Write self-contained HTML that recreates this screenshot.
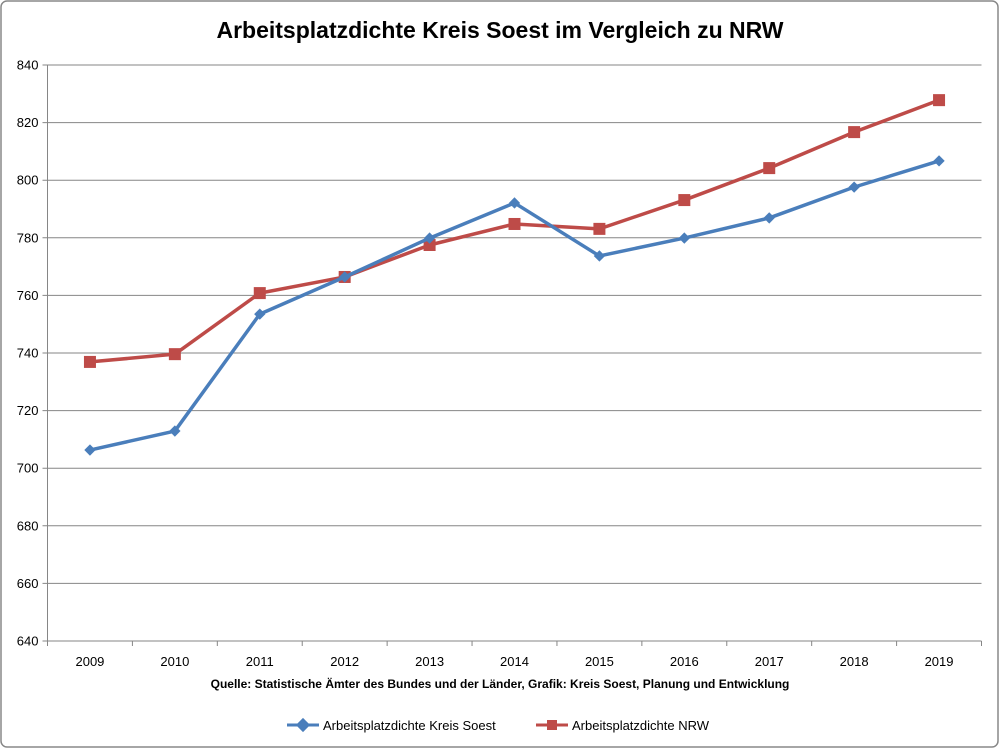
<!DOCTYPE html>
<html><head><meta charset="utf-8"><style>
html,body{margin:0;padding:0;background:#fff;}
svg{display:block;font-family:"Liberation Sans",Arial,sans-serif;}
</style></head><body>
<svg id="chart" width="1000" height="749" viewBox="0 0 1000 749">
<rect x="1" y="1" width="997" height="746" rx="6" fill="#fff" stroke="#888" stroke-width="1.5"/>
<text x="500" y="38" text-anchor="middle" font-size="23" font-weight="bold" fill="#000">Arbeitsplatzdichte Kreis Soest im Vergleich zu NRW</text>
<g id="grid"></g>
<g id="yticks"></g>
<g id="xticks"></g>
<g id="series"></g>
<text x="500" y="688" text-anchor="middle" font-size="12" font-weight="bold" fill="#000">Quelle: Statistische Ämter des Bundes und der Länder, Grafik: Kreis Soest, Planung und Entwicklung</text>
<g>
<g>
<line x1="287" y1="725" x2="319" y2="725" stroke="#4a7ebb" stroke-width="3"/>
<rect x="298" y="720" width="10" height="10" fill="#4a7ebb" transform="rotate(45 303 725)"/>
<text x="323" y="730" font-size="13" fill="#000">Arbeitsplatzdichte Kreis Soest</text>
</g>
<g>
<line x1="536" y1="725" x2="568" y2="725" stroke="#be4b48" stroke-width="3"/>
<rect x="547" y="720" width="10" height="10" fill="#be4b48"/>
<text x="572" y="730" font-size="13" fill="#000">Arbeitsplatzdichte NRW</text>
</g>
</g>
</svg>
<script>
const categories=["2009","2010","2011","2012","2013","2014","2015","2016","2017","2018","2019"];
const soestValues=[706.3,712.9,753.5,766.4,779.9,792.1,773.7,779.9,786.9,797.6,806.7];
const nrwValues=[736.9,739.6,760.8,766.4,777.5,784.8,783.1,793.1,804.2,816.7,827.8];
const yTicks=[640,660,680,700,720,740,760,780,800,820,840];
const NS="http://www.w3.org/2000/svg";
const L=47.5,R=981.5,T=65,B=641,yMin=640,yMax=840;
const step=(R-L)/categories.length;
function xs(i){return L+step*(i+0.5);}
function ys(v){return B-(v-yMin)/(yMax-yMin)*(B-T);}
function mk(tag,attrs,parent){const e=document.createElementNS(NS,tag);for(const k in attrs)e.setAttribute(k,attrs[k]);parent.appendChild(e);return e;}
const grid=document.getElementById('grid'),yt=document.getElementById('yticks'),xt=document.getElementById('xticks'),ser=document.getElementById('series');
yTicks.forEach(v=>{
 const l=mk('line',{x1:L-5,x2:R,y1:ys(v),y2:ys(v),stroke:'#868686','stroke-width':1},grid);
 
 
 const t=mk('text',{x:L-9,y:ys(v)+4.5,'text-anchor':'end','font-size':13,fill:'#000'},yt);
 t.textContent=v;
 
 
});
mk('line',{x1:L,x2:L,y1:T,y2:B+5,stroke:'#868686'},grid);
for(let i=0;i<=categories.length;i++){mk('line',{x1:L+step*i,x2:L+step*i,y1:B,y2:B+5,stroke:'#868686'},grid);}
categories.forEach((c,i)=>{
 const t=mk('text',{x:xs(i),y:B+25,'text-anchor':'middle','font-size':13,fill:'#000'},xt);
 t.textContent=c;
 
 
});
function drawSeries(vals,color,marker,name){
 const p=mk('polyline',{points:vals.map((v,i)=>xs(i)+','+ys(v)).join(' '),fill:'none',stroke:color,'stroke-width':3.5,'stroke-linejoin':'round'},ser);
 
 
 vals.forEach((v,i)=>{
  let m;
  if(marker==='diamond'){m=mk('rect',{x:xs(i)-4,y:ys(v)-4,width:8,height:8,fill:color,transform:'rotate(45 '+xs(i)+' '+ys(v)+')'},ser);}
  else{m=mk('rect',{x:xs(i)-6,y:ys(v)-6,width:12,height:12,fill:color},ser);}
  
  
 });
}
drawSeries(nrwValues,'#be4b48','square','nrw');
drawSeries(soestValues,'#4a7ebb','diamond','soest');
</script>
</body></html>
